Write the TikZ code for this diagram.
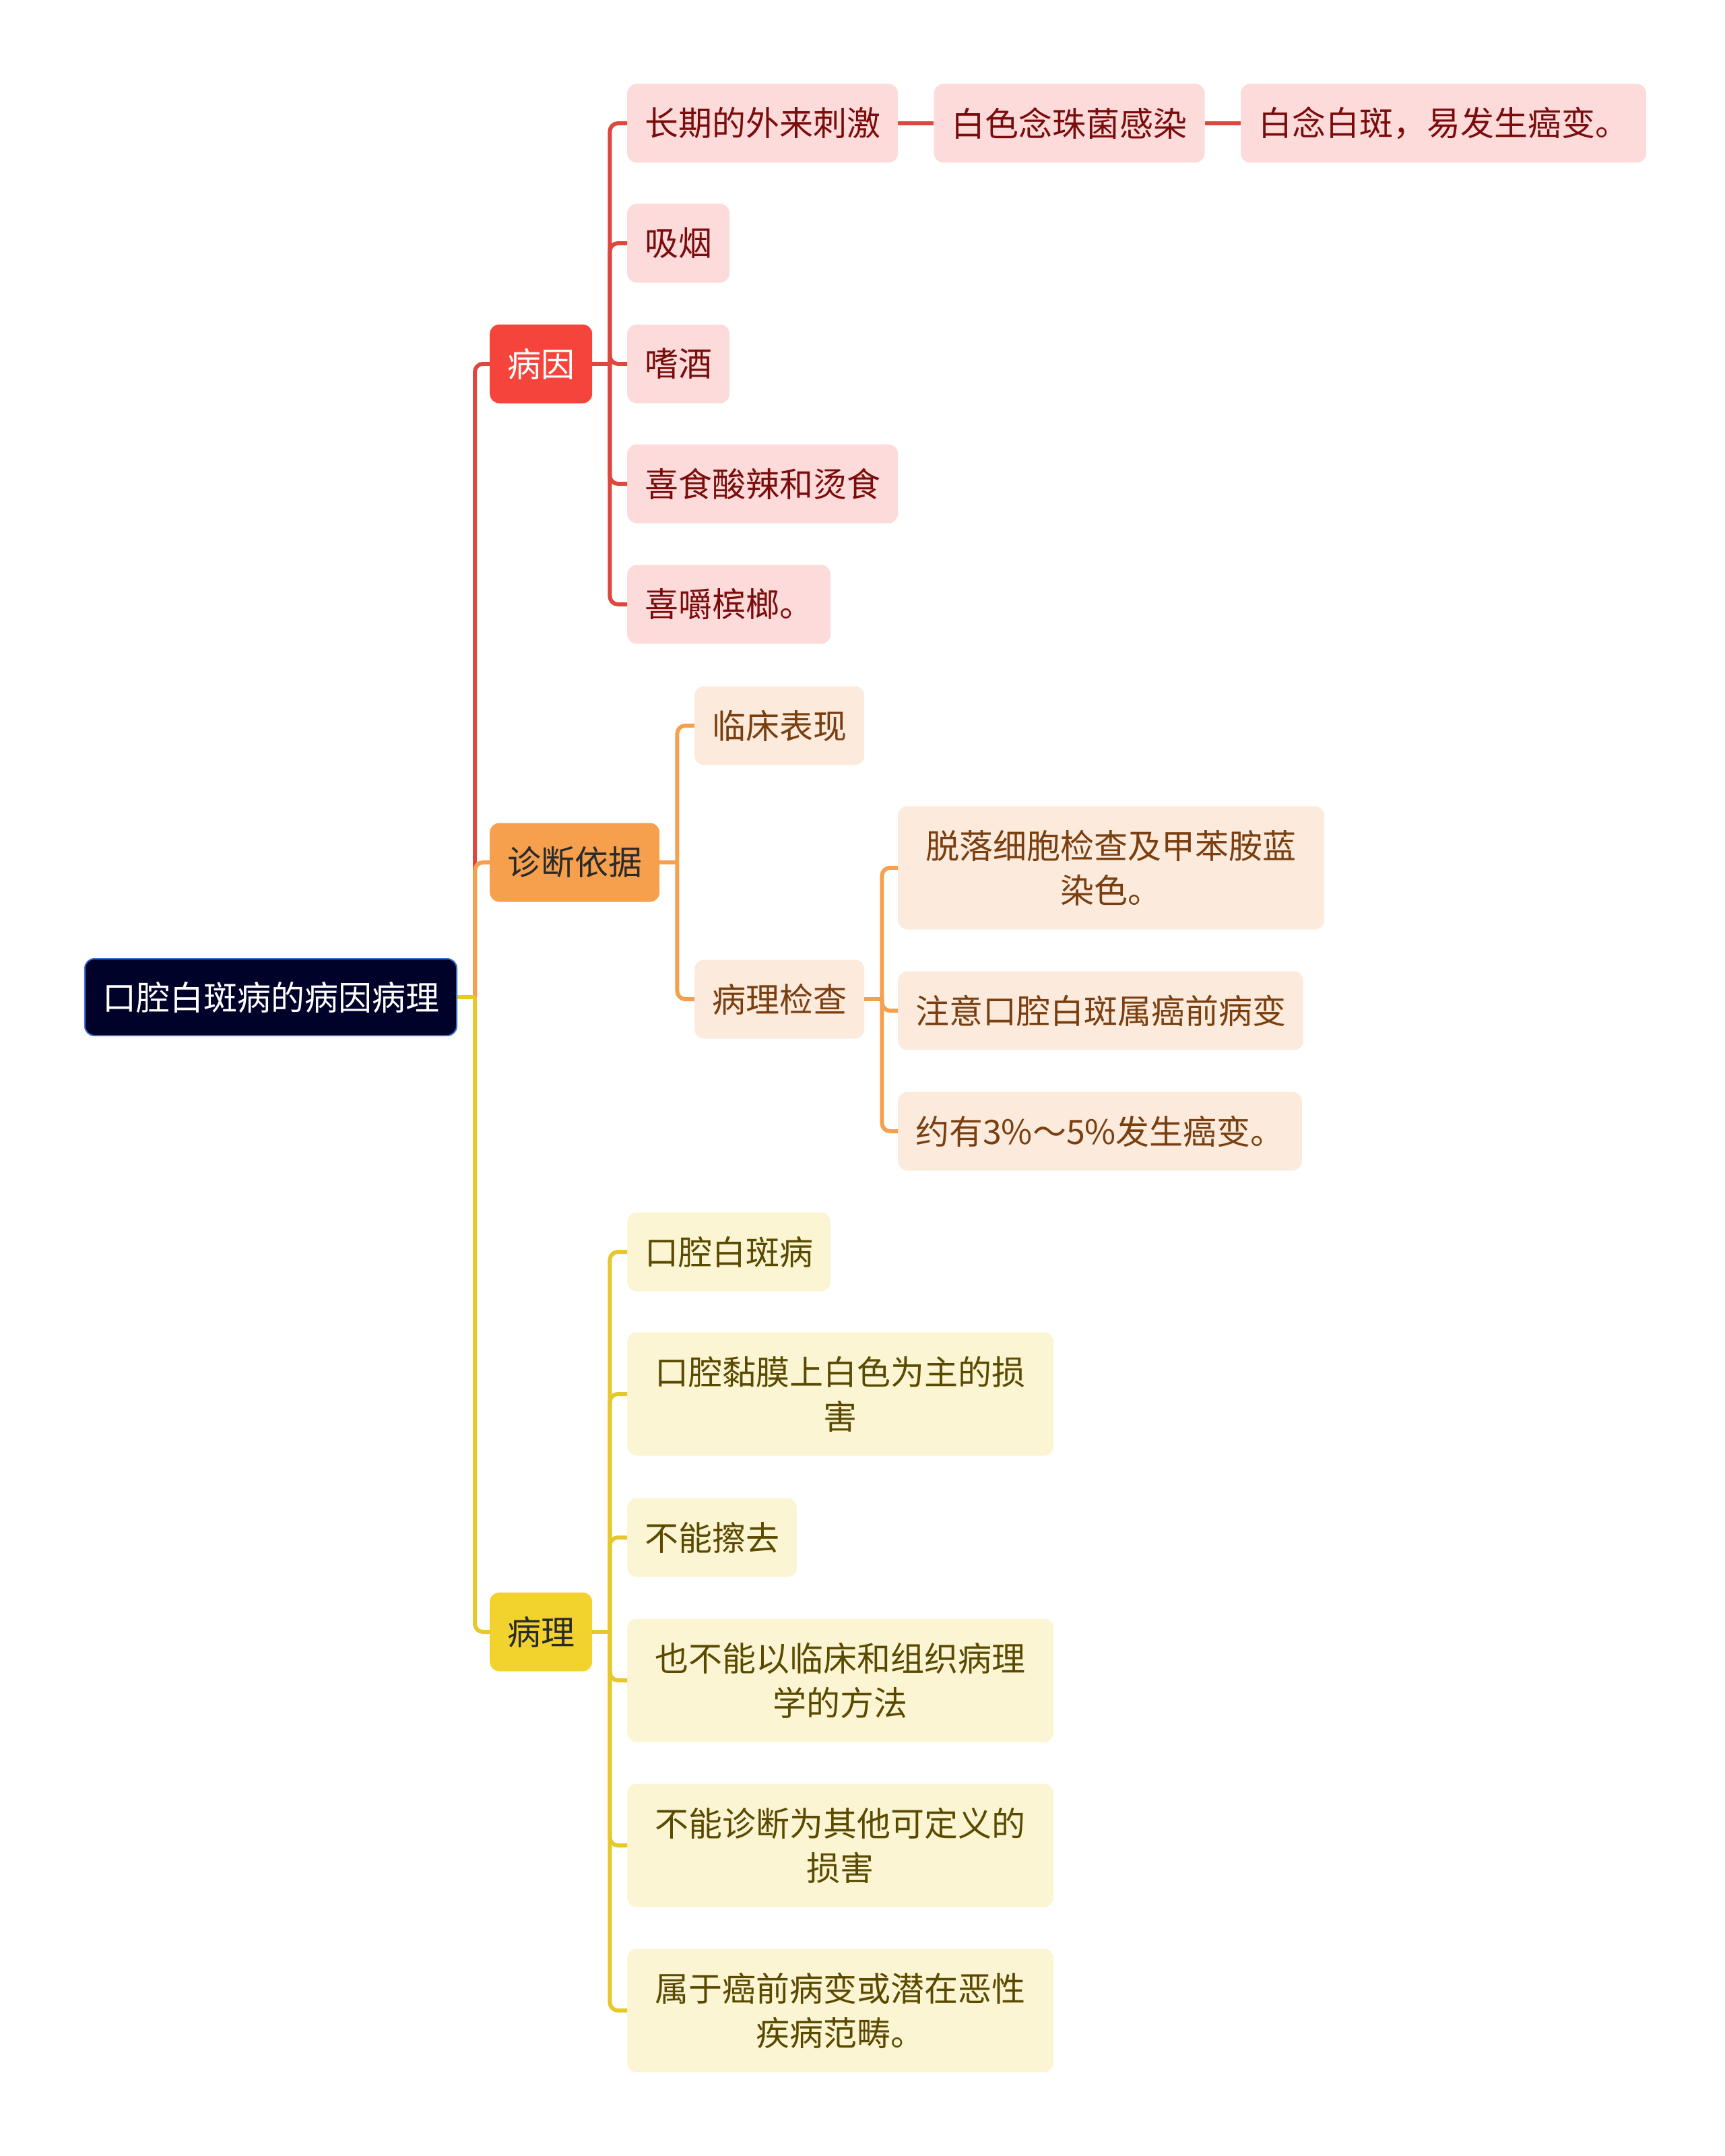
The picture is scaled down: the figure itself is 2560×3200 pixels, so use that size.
\documentclass[tikz,border=0pt]{standalone}
\usepackage{fontspec}
\setmainfont{Noto Sans CJK SC}
\usepackage{tikz}
\usetikzlibrary{positioning, calc}
\definecolor{mapNavy}{HTML}{000229}
\definecolor{mapNavyEdge}{HTML}{3B6FD6}
\definecolor{causeRed}{HTML}{F5443C}
\definecolor{causeRedLight}{HTML}{FDDBDB}
\definecolor{causeRedText}{HTML}{7A0C0C}
\definecolor{diagOrange}{HTML}{F6A04E}
\definecolor{diagOrangeLight}{HTML}{FCEBDC}
\definecolor{diagOrangeText}{HTML}{7A3F10}
\definecolor{pathYellow}{HTML}{F2D32E}
\definecolor{pathYellowLight}{HTML}{FCF5D3}
\definecolor{pathYellowText}{HTML}{5A4A00}
\definecolor{mainText}{HTML}{2A2A2A}

\begin{document}
\begin{tikzpicture}[
  x=1pt, y=-1pt,
  font=\fontsize{50}{66}\selectfont,
  node distance=53pt,
  box/.style={rounded corners=14pt, align=center, inner xsep=26pt, inner ysep=0pt,
              minimum height=117pt, anchor=west},
  tallbox/.style={box, minimum height=183pt, minimum width=633pt},
  topic/.style={box, fill=mapNavy, draw=mapNavyEdge, line width=2pt, text=white,
                minimum height=114pt},
  cause/.style={box, fill=causeRed, text=white},
  causeleaf/.style={box, fill=causeRedLight, text=causeRedText},
  diag/.style={box, fill=diagOrange, text=mainText},
  diagleaf/.style={box, fill=diagOrangeLight, text=diagOrangeText},
  patho/.style={box, fill=pathYellow, text=mainText},
  patholeaf/.style={box, fill=pathYellowLight, text=pathYellowText},
  redline/.style={draw=causeRed!90!black!95, line width=6pt, rounded corners=12pt},
  orangeline/.style={draw=diagOrange, line width=6pt, rounded corners=12pt},
  yellowline/.style={draw=pathYellow!95!black, line width=6pt, rounded corners=12pt}
]
\useasboundingbox (0,0) rectangle (2560,3200);

\node[topic] (zhuti) at (125,1480) {口腔白斑病的病因病理};
\node[cause] (bingyin) at (727,540) {病因};
\node[diag] (zhenduan) at (727,1280) {诊断依据};
\node[patho] (bingli) at (727,2422) {病理};

\node[causeleaf] (waiLai) at (931,183) {长期的外来刺激};
\node[causeleaf, right=of waiLai] (nianZhu) {白色念珠菌感染};
\node[causeleaf, right=of nianZhu] (baiBan) {白念白斑，易发生癌变。};
\node[causeleaf] (xiYan) at (931,361) {吸烟};
\node[causeleaf] (shiJiu) at (931,540) {嗜酒};
\node[causeleaf] (xiShi) at (931,718) {喜食酸辣和烫食};
\node[causeleaf] (xiJiao) at (931,897) {喜嚼槟榔。};

\node[diagleaf] (linChuang) at (1031,1077) {临床表现};
\node[diagleaf] (jianCha) at (1031,1483) {病理检查};
\node[diagleaf, tallbox] (tuoLuo) at (1333,1288) {脱落细胞检查及甲苯胺蓝\\染色。};
\node[diagleaf] (zhuYi) at (1333,1500) {注意口腔白斑属癌前病变};
\node[diagleaf] (yueYou) at (1333,1679) {约有3\%～5\%发生癌变。};

\node[patholeaf] (baiBanBing) at (931,1858) {口腔白斑病};
\node[patholeaf, tallbox] (sunHai) at (931,2069) {口腔黏膜上白色为主的损\\害};
\node[patholeaf] (caQu) at (931,2282) {不能擦去};
\node[patholeaf, tallbox] (fangFa) at (931,2494) {也不能以临床和组织病理\\学的方法};
\node[patholeaf, tallbox] (dingYi) at (931,2739) {不能诊断为其他可定义的\\损害};
\node[patholeaf, tallbox] (fanChou) at (931,2984) {属于癌前病变或潜在恶性\\疾病范畴。};

\coordinate (zhutiJ) at ($(zhuti.east)+(26,0)$);
\coordinate (bingyinJ) at ($(bingyin.east)+(26,0)$);
\coordinate (zhenduanJ) at ($(zhenduan.east)+(26,0)$);
\coordinate (jianChaJ) at ($(jianCha.east)+(26,0)$);
\coordinate (bingliJ) at ($(bingli.east)+(26,0)$);

\draw[redline] (zhutiJ) |- (bingyin.west);
\draw[orangeline] (zhutiJ) |- (zhenduan.west);
\draw[yellowline] (zhuti.east) -- (zhutiJ);
\draw[yellowline] (zhutiJ) |- (bingli.west);

\draw[redline] (bingyin.east) -- (bingyinJ);
\foreach \leaf in {waiLai, xiYan, shiJiu, xiShi, xiJiao}
  \draw[redline] (bingyinJ) |- (\leaf.west);
\draw[redline] (waiLai) -- (nianZhu);
\draw[redline] (nianZhu) -- (baiBan);

\draw[orangeline] (zhenduan.east) -- (zhenduanJ);
\foreach \leaf in {linChuang, jianCha}
  \draw[orangeline] (zhenduanJ) |- (\leaf.west);
\draw[orangeline] (jianCha.east) -- (jianChaJ);
\foreach \leaf in {tuoLuo, zhuYi, yueYou}
  \draw[orangeline] (jianChaJ) |- (\leaf.west);

\draw[yellowline] (bingli.east) -- (bingliJ);
\foreach \leaf in {baiBanBing, sunHai, caQu, fangFa, dingYi, fanChou}
  \draw[yellowline] (bingliJ) |- (\leaf.west);
\end{tikzpicture}
\end{document}
